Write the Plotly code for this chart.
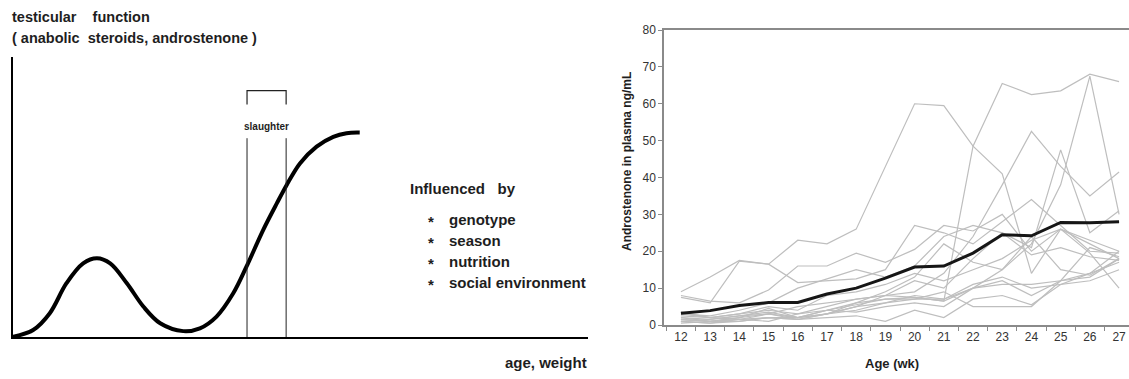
import plotly.graph_objects as go

W, H = 1129, 379

# ---------------- Right panel data ----------------
weeks = [str(w) for w in range(12, 28)]
tick_labels = weeks
mean_level = [3.2, 3.9, 5.3, 6.1, 6.1, 8.4, 10.0, 12.7, 15.7, 16.0, 19.5, 24.5, 24.2, 27.8, 27.7, 28.0]

p1 = [9, 13, 17.5, 16.5, 23, 22, 26, 43, 60, 59.5, 48.5, 41, 14, 26, 19.5, 10]
p2 = [2, 1.5, 2.5, 3.5, 2, 4, 6, 7, 7.5, 6.5, 48.5, 65.5, 62.5, 63.5, 68, 66]
p3 = [3, 2, 3, 4, 3, 5, 7, 8, 9, 14, 24, 38, 52.5, 43, 35, 41.5]
p4 = [1.5, 1, 2, 3, 1.5, 3, 5, 8, 12, 10, 18, 25, 21, 47.5, 25, 31]
p5 = [1, 0.5, 1, 2, 2, 3, 4, 6, 7, 7, 10, 15, 22, 38, 67.5, 30]
p6 = [7.5, 6, 17.3, 16.5, 11.5, 12, 12.5, 15, 27, 25, 22, 28, 34, 27, 20, 19.5]
p7 = [8, 6.5, 6, 9.5, 16, 16, 19.5, 17, 20.5, 27, 25.5, 30, 20, 26, 22, 18]
p8 = [3, 2.5, 4, 6, 10, 12.5, 15, 13, 16, 24, 27, 25, 19, 21, 18.5, 17.5]
p9 = [2.5, 2, 3, 5, 4, 8, 9, 11, 14, 12, 15, 18, 23, 26, 23, 20]
p10 = [1.5, 1, 2, 4.5, 2, 3, 6, 9, 13, 22, 17, 15, 24, 15, 13.5, 18]
p11 = [1, 1.5, 2.5, 3, 5, 6, 7, 8, 7.5, 6.5, 10, 11, 11, 12, 14, 17]
p12 = [2, 1, 1.5, 2, 1.5, 3, 5, 6, 8, 7, 11, 13, 10, 11, 12, 15]
p13 = [0.5, 1, 1, 2, 1.5, 2, 2.5, 1, 4, 2, 7, 8, 5.5, 11, 14, 20]
p14 = [1, 0.5, 1.5, 1, 3, 4, 5.5, 7, 7, 9, 5, 5, 5, 12, 13, 18]
p15 = [3.5, 2, 1.5, 3, 2, 4, 3.5, 5, 6, 5, 10, 12, 8, 12, 21, 18.5]
individuals = [p1, p2, p3, p4, p5, p6, p7, p8, p9, p10, p11, p12, p13, p14, p15]

# ---------------- Left panel (schematic) data ----------------
curve_age = [0, 3.5, 6.4, 9.3, 12.2, 14.6, 16.9, 19.8, 22.7, 25.6, 29.6, 32.5, 35.4,
             38.3, 40.6, 43.5, 45.9, 47.6, 49.9, 52.8, 55.7, 58.0, 60.3]
curve_level = [0.1, 2.5, 8.5, 19.2, 26.3, 28.1, 26.3, 19.2, 10.8, 4.9, 2.1, 3.1, 7.3,
               15.6, 25.1, 38.2, 47.8, 54.3, 62.0, 68.0, 71.5, 72.8, 73.0]
slaughter_start, slaughter_end = 40.7, 47.5
slaughter_line_top = 71
bracket_low, bracket_high = 83, 88
influences = ["genotype", "season", "nutrition", "social environment"]


def px(x):
    return x / W


def py(y):
    return 1 - y / H


fig = go.Figure()

for s in individuals:
    fig.add_trace(go.Scatter(x=weeks, y=s, mode="lines",
                             line=dict(color="#bebebe", width=1.2),
                             xaxis="x", yaxis="y", hoverinfo="skip", showlegend=False))
fig.add_trace(go.Scatter(x=weeks, y=mean_level, mode="lines",
                         line=dict(color="#161616", width=3),
                         xaxis="x", yaxis="y", showlegend=False))

# schematic curve
fig.add_trace(go.Scatter(x=curve_age, y=curve_level, mode="lines",
                         line=dict(color="black", width=4, shape="spline"),
                         xaxis="x2", yaxis="y2", showlegend=False, cliponaxis=False))
fig.add_trace(go.Scatter(x=[slaughter_start, slaughter_start, None, slaughter_end, slaughter_end],
                         y=[0, slaughter_line_top, None, 0, slaughter_line_top], mode="lines",
                         line=dict(color="#222", width=1), xaxis="x2", yaxis="y2", showlegend=False))
fig.add_trace(go.Scatter(x=[slaughter_start, slaughter_start, slaughter_end, slaughter_end],
                         y=[bracket_low, bracket_high, bracket_high, bracket_low], mode="lines",
                         line=dict(color="#222", width=1.2), xaxis="x2", yaxis="y2", showlegend=False))

FONT = "Liberation Sans"
tick_font = dict(family=FONT, size=12, color="#333")

fig.update_layout(
    width=W, height=H, margin=dict(l=0, r=0, t=0, b=0, autoexpand=False),
    paper_bgcolor="white", plot_bgcolor="white", showlegend=False,
    xaxis=dict(type="category", domain=[px(664), 1], range=[-0.58, 15.34],
               categoryorder="array", categoryarray=weeks,
               tickvals=weeks, ticktext=tick_labels,
               showline=True, linecolor="#8a8a8a", linewidth=1.5, mirror=True,
               ticks="outside", tickson="boundaries", ticklen=4, tickcolor="#8a8a8a",
               tickfont=tick_font, showgrid=False, zeroline=False, anchor="y",
               automargin=False),
    yaxis=dict(domain=[py(325), py(30)], range=[0, 80], dtick=10, tick0=0,
               showline=True, linecolor="#8a8a8a", linewidth=1.5,
               ticks="outside", ticklen=4, tickcolor="#8a8a8a",
               tickfont=tick_font, showgrid=False, zeroline=False, anchor="x",
               automargin=False),
    xaxis2=dict(domain=[px(13), px(588)], range=[0, 100], showline=True, linecolor="black",
                linewidth=2, showticklabels=False, ticks="", showgrid=False,
                zeroline=False, anchor="y2", automargin=False),
    yaxis2=dict(domain=[py(337), py(57)], range=[0, 100], showline=True, linecolor="black",
                linewidth=2, showticklabels=False, ticks="", showgrid=False,
                zeroline=False, anchor="x2", automargin=False),
)

NB = "\u00a0"


def label(text, x, y, size=12, weight="bold", xanchor="left", angle=0, color="#1e1e1e"):
    fig.add_annotation(text=text, x=px(x), y=py(y), xref="paper", yref="paper",
                       xanchor=xanchor, yanchor="middle", showarrow=False, textangle=angle,
                       font=dict(family=FONT, size=size, color=color, weight=weight))


label("testicular" + NB * 4 + "function", 10, 17, size=14.5)
label("(" + NB + "anabolic" + NB * 2 + "steroids," + NB + "androstenone" + NB + ")", 10, 38, size=14.5)
label("slaughter", 266, 127, size=10, xanchor="center")
label("Influenced" + NB * 3 + "by", 408, 188, size=15)
for i, item in enumerate(influences):
    yy = 219 + i * 21
    label("*", 431, yy + 2, size=15, xanchor="center")
    label(item, 447, yy, size=15)
label("age," + NB + "weight", 589, 362, size=15, xanchor="right")

label("Androstenone in plasma ng/mL", 627, 162, size=12, xanchor="center", angle=-90)
label("Age (wk)", 892, 363, size=13, xanchor="center")

fig.write_html("out.html", config={"displayModeBar": False},
               post_script="document.body.style.margin='0';document.body.style.overflow='hidden';")
